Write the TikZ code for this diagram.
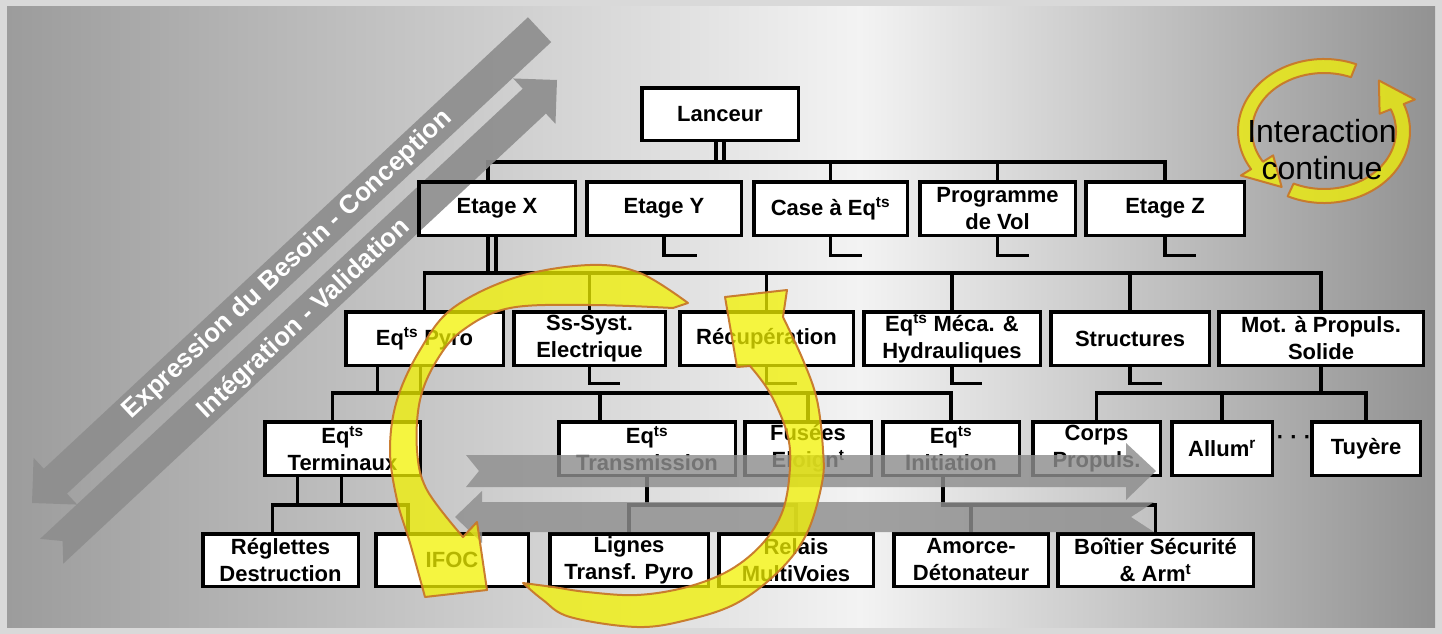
\documentclass[tikz,border=0pt]{standalone}
\usepackage{fontspec}
\setmainfont{Liberation Sans}
\definecolor{frameC}{HTML}{D9D9D9}
\definecolor{bgL}{HTML}{9C9C9C}
\definecolor{bgM}{HTML}{F3F3F3}
\definecolor{bgR}{HTML}{929292}
\definecolor{arrowC}{HTML}{8E8E8E}
\definecolor{yFill}{HTML}{F2F200}
\definecolor{yEdge}{HTML}{C8782A}
\begin{document}
\begin{tikzpicture}[x=1pt,y=-1pt,
  bx/.style={draw=black,line width=3.5pt,fill=white,inner sep=0pt,outer sep=0pt,align=center,font=\bfseries\fontsize{22}{27}\selectfont},
  conn/.style={draw=black,line width=3.5pt},
  harrow/.style={fill=arrowC,fill opacity=0.82},
  darrow/.style={fill=arrowC,fill opacity=0.92},
  dtext/.style={text=white,font=\bfseries\fontsize{26}{30}\selectfont,rotate=43,inner sep=0pt},
  yarrow/.style={fill=yFill,fill opacity=0.75,draw=yEdge,draw opacity=0.95,line width=2pt,line join=round},
  itext/.style={align=center,font=\fontsize{32}{37}\selectfont,inner sep=0pt}
]
\useasboundingbox (0,0) rectangle (1442,634);
% background
\fill[frameC] (0,0) rectangle (1442,634);
\shade[left color=bgL,right color=bgM] (7,7) rectangle (861,627);
\shade[left color=bgM,right color=bgR] (860,7) rectangle (1435,627);

% boxes
\node[bx,minimum width=156.5pt,minimum height=52.5pt] (lanceur) at (720,114) {Lanceur};

\node[bx,minimum width=156.5pt,minimum height=53.5pt] (etX) at (497,208.5) {Etage X};
\node[bx,minimum width=154.5pt,minimum height=53.5pt] (etY) at (664,208.5) {Etage Y};
\node[bx,minimum width=153.5pt,minimum height=53.5pt] (case) at (830.5,208.5) {Case à Eq\textsuperscript{ts}};
\node[bx,minimum width=155.5pt,minimum height=53.5pt] (prog) at (997.5,208.5) {Programme\\de Vol};
\node[bx,minimum width=158.5pt,minimum height=53.5pt] (etZ) at (1165,208.5) {Etage Z};

\node[bx,minimum width=157.5pt,minimum height=53.5pt] (pyro) at (424.5,338.5) {Eq\textsuperscript{ts} Pyro};
\node[bx,minimum width=151.5pt,minimum height=53.5pt] (ssys) at (589.5,338.5) {Ss-Syst.\\Electrique};
\node[bx,minimum width=173.5pt,minimum height=53.5pt] (recup) at (766.5,338.5) {Récupération};
\node[bx,minimum width=176.5pt,minimum height=53.5pt] (meca) at (952,338.5) {Eq\textsuperscript{ts} Méca. \&\\Hydrauliques};
\node[bx,minimum width=158.5pt,minimum height=53.5pt] (struct) at (1130,338.5) {Structures};
\node[bx,minimum width=204.5pt,minimum height=53.5pt] (mot) at (1321,338.5) {Mot. à Propuls.\\Solide};

\node[bx,minimum width=155.5pt,minimum height=53.5pt] (term) at (342.5,448.5) {Eq\textsuperscript{ts}\\Terminaux};
\node[bx,minimum width=176.5pt,minimum height=53.5pt] (trans) at (647,448.5) {Eq\textsuperscript{ts}\\Transmission};
\node[bx,minimum width=126.5pt,minimum height=53.5pt] (fus) at (808,448.5) {Fusées\\Eloign\textsuperscript{t}};
\node[bx,minimum width=136.5pt,minimum height=53.5pt] (init) at (951,448.5) {Eq\textsuperscript{ts}\\Initiation};
\node[bx,minimum width=127.5pt,minimum height=53.5pt] (corps) at (1096.5,448.5) {Corps\\Propuls.};
\node[bx,minimum width=100.5pt,minimum height=53.5pt] (allum) at (1222,448.5) {Allum\textsuperscript{r}};
\node[bx,minimum width=108.5pt,minimum height=53.5pt] (tuy) at (1366,448.5) {Tuyère};
\node[font=\bfseries\fontsize{22}{27}\selectfont,inner sep=0pt] (dots) at (1294,440) {· · ·};

\node[bx,minimum width=155.5pt,minimum height=52.5pt] (regl) at (280.5,560) {Réglettes\\Destruction};
\node[bx,minimum width=152.5pt,minimum height=52.5pt] (ifoc) at (452,560) {IFOC};
\node[bx,minimum width=158.5pt,minimum height=52.5pt] (lignes) at (629,560) {Lignes\\Transf. Pyro};
\node[bx,minimum width=154.5pt,minimum height=52.5pt] (relais) at (796,560) {Relais\\MultiVoies};
\node[bx,minimum width=154.5pt,minimum height=52.5pt] (amorce) at (971,560) {Amorce-\\Détonateur};
\node[bx,minimum width=195.5pt,minimum height=52.5pt] (boitier) at (1155.5,560) {Boîtier Sécurité\\\& Arm\textsuperscript{t}};

% connectors
\draw[conn] ([xshift=-4pt]lanceur.south) -- ++(0,22);
\draw[conn] ([xshift=4pt]lanceur.south) -- ++(0,22);
\draw[conn] ([xshift=-9pt]etX.north) -- ++(0,-20) -| (etZ.north);
\draw[conn] (case.north) -- ++(0,-20);
\draw[conn] (prog.north) -- ++(0,-20);
\draw[conn] (etY.south) -- ++(0,20) -- ++(33,0);
\draw[conn] (case.south) -- ++(0,20) -- ++(31,0);
\draw[conn] (prog.south) -- ++(0,20) -- ++(31,0);
\draw[conn] (etZ.south) -- ++(0,20) -- ++(31,0);
\draw[conn] ([xshift=-9pt]etX.south) -- ++(0,38);
\draw[conn] ([xshift=-1pt]etX.south) -- ++(0,38);

\draw[conn] (pyro.north) -- ++(0,-39) -| (mot.north);
\draw[conn] (ssys.north) -- ++(0,-39);
\draw[conn] (recup.north) -- ++(0,-39);
\draw[conn] (meca.north) -- ++(0,-39);
\draw[conn] (struct.north) -- ++(0,-39);
\draw[conn] (ssys.south) -- ++(0,18) -- ++(30,0);
\draw[conn] (recup.south) -- ++(0,18) -- ++(30,0);
\draw[conn] (meca.south) -- ++(0,18) -- ++(30,0);
\draw[conn] (struct.south) -- ++(0,18) -- ++(32,0);
\draw[conn] ([xshift=-47pt]pyro.south) -- ++(0,28);
\draw[conn] ([xshift=-4pt]pyro.south) -- ++(0,28);
\draw[conn] (mot.south) -- ++(0,28);

\draw[conn] ([xshift=-10pt]term.north) -- ++(0,-29) -| (init.north);
\draw[conn] ([xshift=-47pt]trans.north) -- ++(0,-29);
\draw[conn] (fus.north) -- ++(0,-29);
\draw[conn] (corps.north) -- ++(0,-29) -| (tuy.north);
\draw[conn] (allum.north) -- ++(0,-29);

\draw[conn] ([xshift=-45pt]term.south) -- ++(0,30);
\draw[conn] ([xshift=-1pt]term.south) -- ++(0,30);
\draw[conn] ([xshift=-8pt]regl.north) -- ++(0,-29) -| ([xshift=-44pt]ifoc.north);
\draw[conn] (trans.south) -- ++(0,30);
\draw[conn] (lignes.north) -- ++(0,-29) -| (relais.north);
\draw[conn] (boitier.north) -- ++(0,-29) -| ([xshift=-8pt]init.south);
\draw[conn] (amorce.north) -- ++(0,-29);

% horizontal grey arrows
\fill[harrow] (466,455) -- (1126,455) -- (1126,443) -- (1156,471) -- (1126,500) -- (1126,487) -- (466,487) -- (479,471) -- cycle;
\fill[harrow] (455,517) -- (482,491) -- (482,502) -- (1154,502) -- (1131,517) -- (1154,532) -- (482,532) -- (482,543) -- cycle;

% diagonal grey arrows
\begin{scope}[shift={(32,503)},rotate=223]
\fill[darrow] (0,0) -- (-32,32) -- (-32,17) -- (-694,17) -- (-694,-17) -- (-32,-17) -- (-32,-32) -- cycle;
\end{scope}
\begin{scope}[shift={(557,80)},rotate=43]
\fill[darrow] (0,0) -- (-31,31) -- (-31,17) -- (-691,17) -- (-676,0) -- (-691,-17) -- (-31,-17) -- (-31,-31) -- cycle;
\end{scope}
\draw[line width=3.5pt] (etX.north west) rectangle (etX.south east);
\node[dtext] (txtExp) at (288,265) {Expression du Besoin - Conception};
\node[dtext] (txtInt) at (304,319) {Intégration - Validation};

% yellow circular arrows
\filldraw[yarrow] plot[smooth,tension=0.6] coordinates {(688,303) (640,273) (590,265) (517,277) (453,308) (420,350) (397,400) (390,450) (397,500) (410,543) (425,597)} -- (487,590) -- (477,522) -- plot[smooth,tension=0.6] coordinates {(463,537) (427,490) (417,450) (420,400) (437,360) (463,330) (510,308) (590,305) (673,308)} -- cycle;
\filldraw[yarrow] plot[smooth,tension=0.6] coordinates {(523,583) (543,600) (570,617) (637,627) (687,620) (737,603) (780,570) (807,533) (822,483) (823,450) (817,400) (803,360) (783,317)} -- (787,290) -- (725,297) -- (737,367) -- plot[smooth,tension=0.6] coordinates {(750,366) (770,393) (787,433) (790,467) (783,510) (763,543) (730,570) (687,587) (637,595) (587,592) (553,587) (523,583)} -- cycle;

% interaction continue
\begin{scope}[shift={(1324,131)}]
\filldraw[yarrow] (-68:86 and 72) arc[start angle=-68,end angle=-212,x radius=86,y radius=72] -- (-212:98 and 84) -- (-238:80 and 66) -- (-212:60 and 46) -- (-212:72 and 58) arc[start angle=-212,end angle=-68,x radius=72,y radius=58] -- cycle;
\filldraw[yarrow] (115:86 and 72) arc[start angle=115,end angle=-22,x radius=86,y radius=72] -- (-22:98 and 84) -- (-48:82 and 68) -- (-22:60 and 46) -- (-22:72 and 58) arc[start angle=-22,end angle=115,x radius=72,y radius=58] -- cycle;
\end{scope}
\node[itext] (inter) at (1322,150) {Interaction\\continue};
\end{tikzpicture}
\end{document}
